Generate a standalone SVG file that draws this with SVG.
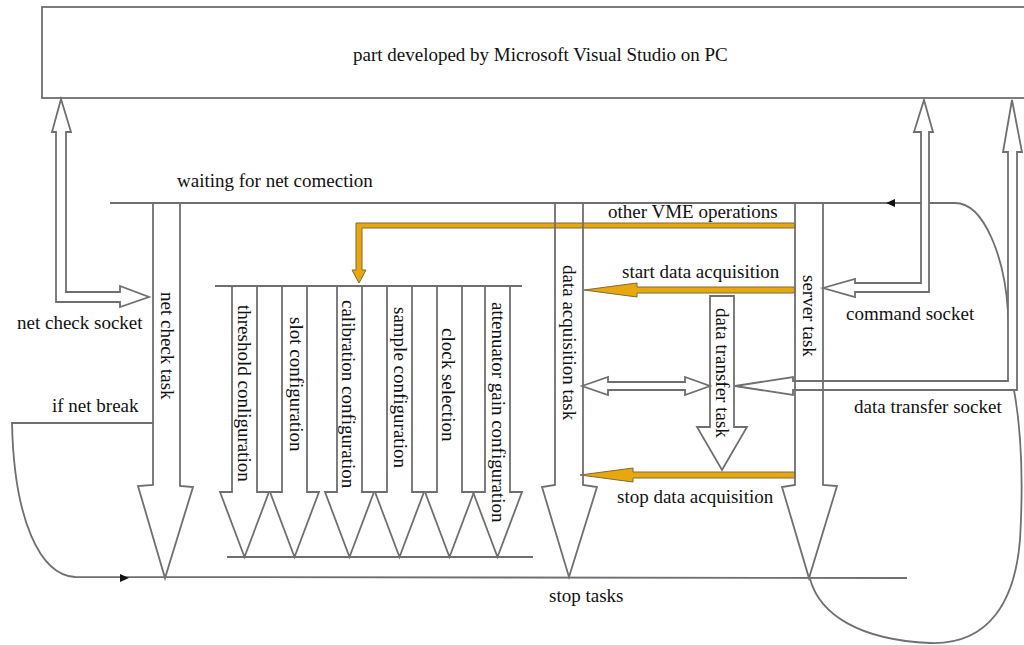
<svg xmlns="http://www.w3.org/2000/svg" width="1024" height="645" viewBox="0 0 1024 645">
<style>
.ln{fill:none;stroke:#6f6f6f;stroke-width:1.8;stroke-linejoin:miter}
.ar{fill:none;stroke:#6f6f6f;stroke-width:1.8;stroke-linejoin:miter}
.hw{fill:#fff;stroke:#6f6f6f;stroke-width:1.8;stroke-linejoin:miter}
.yl{fill:#E8A80C;stroke:#7a6a40;stroke-width:1}
.t{font-family:"Liberation Serif","Times New Roman",serif;font-size:19px;fill:#111}
.v{font-family:"Liberation Serif","Times New Roman",serif;font-size:19px;fill:#111;dominant-baseline:central}
.hd{fill:#111;stroke:none}
</style>
<rect width="1024" height="645" fill="#fff"/>

<g id="pc">
<rect x="42" y="7" width="983" height="91" fill="#fff" stroke="#6f6f6f" stroke-width="1.8"/>
<text class="t" x="353" y="61">part developed by Microsoft Visual Studio on PC</text>
</g>

<g id="connectors">
<!-- waiting for net connection line and loop back from stop tasks -->
<path class="ln" d="M110 203 L955 203 C985 203 1005 260 1008 312 L1013 385 C1020 420 1024 470 1020 540 C1015 600 990 645 930 643 C860 640 820 615 810 579"/>
<polygon class="hd" points="886,203 895,199 895,207"/>
<!-- if net break / stop tasks -->
<path class="ln" d="M153 423 L12 423 C14 520 40 575 75 577 L907 578"/>
<polygon class="hd" points="129,578 120,574 120,582"/>
<!-- yellow arrows -->
<polygon class="yl" points="795,223 356,223 356,270 352,270 359,283 366,270 362,270 362,228 795,228"/>
<polygon class="yl" points="795,287 637,287 637,283 584,290 637,297 637,293 795,293"/>
<polygon class="yl" points="795,472 633,472 633,468 580,475 633,482 633,478 795,478"/>
<!-- sockets -->
<polygon class="hw" points="61,99 71,132 66,132 66,292 120,292 120,286 149,297 120,307 120,302 56,302 56,132 52,132"/>
<polygon class="hw" points="823,288 855,279 855,283 921,283 921,132 914,132 924,100 933,132 929,132 929,292 855,292 855,297"/>
<polygon class="hw" points="1012,100 1022,152 1017,152 1017,390 793,390 793,395 735,386 793,377 793,381 1008,381 1008,152 1003,152"/>
<polygon class="hw" points="582,386 608,377 608,382 685,382 685,377 710,386 685,395 685,390 608,390 608,395"/>
<!-- config top and bottom lines -->
<path class="ln" d="M215 286 L522 286"/>
<path class="ln" d="M227 557 L533 557"/>
</g>

<g id="net-check-task">
<polyline class="ar" points="153,203 153,485 138,486 165,578 193,487 180,486 180,203"/>
<text class="v" transform="translate(167,292) rotate(90)">net check task</text>
</g>

<g id="threshold">
<polyline class="ar" points="232,286 232,492 220,492 244.5,557 269,492 257,492 257,286"/>
<text class="v" transform="translate(244,305) rotate(90)">threshold conliguration</text>
</g>
<g id="slot">
<polyline class="ar" points="282,286 282,492 270,492 294.5,557 319,492 307,492 307,286"/>
<text class="v" transform="translate(296,317) rotate(90)">slot configuration</text>
</g>
<g id="calibration">
<polyline class="ar" points="337,286 337,492 325,492 349.5,557 374,492 362,492 362,286"/>
<text class="v" transform="translate(348,300) rotate(90)">calibration configuration</text>
</g>
<g id="sample">
<polyline class="ar" points="387,286 387,492 375,492 399.5,557 424,492 412,492 412,286"/>
<text class="v" transform="translate(400,307) rotate(90)">sample configuration</text>
</g>
<g id="clock">
<polyline class="ar" points="437,286 437,492 425,492 449.5,557 474,492 462,492 462,286"/>
<text class="v" transform="translate(448,328) rotate(90)">clock selection</text>
</g>
<g id="attenuator">
<polyline class="ar" points="485,286 485,492 473,492 497.5,557 522,492 510,492 510,286"/>
<text class="v" transform="translate(498,302) rotate(90)">attenuator gain configuration</text>
</g>

<g id="data-acquisition-task">
<polyline class="ar" points="555,203 555,485 542,487 569,577 597,487 583,485 583,203"/>
<text class="v" transform="translate(569,265) rotate(90)">data acquisition task</text>
</g>

<g id="data-transfer-task">
<polygon class="ar" points="710,296 710,427 697,427 722,470 747,427 734,427 734,296"/>
<text class="v" transform="translate(722,308) rotate(90)">data transfer task</text>
</g>

<g id="server-task">
<polyline class="ar" points="795,203 795,485 782,487 809,578 837,486 823,485 823,203"/>
<text class="v" transform="translate(809,275) rotate(90)">server task</text>
</g>

<g id="labels">
<text class="t" x="177" y="187">waiting for net comection</text>
<text class="t" x="608" y="218">other VME operations</text>
<text class="t" x="622" y="278">start data acquisition</text>
<text class="t" x="846" y="320">command socket</text>
<text class="t" x="854" y="413">data transfer socket</text>
<text class="t" x="617" y="503">stop data acquisition</text>
<text class="t" x="549" y="602">stop tasks</text>
<text class="t" x="17" y="329">net check socket</text>
<text class="t" x="52" y="412">if net break</text>
</g>
</svg>
